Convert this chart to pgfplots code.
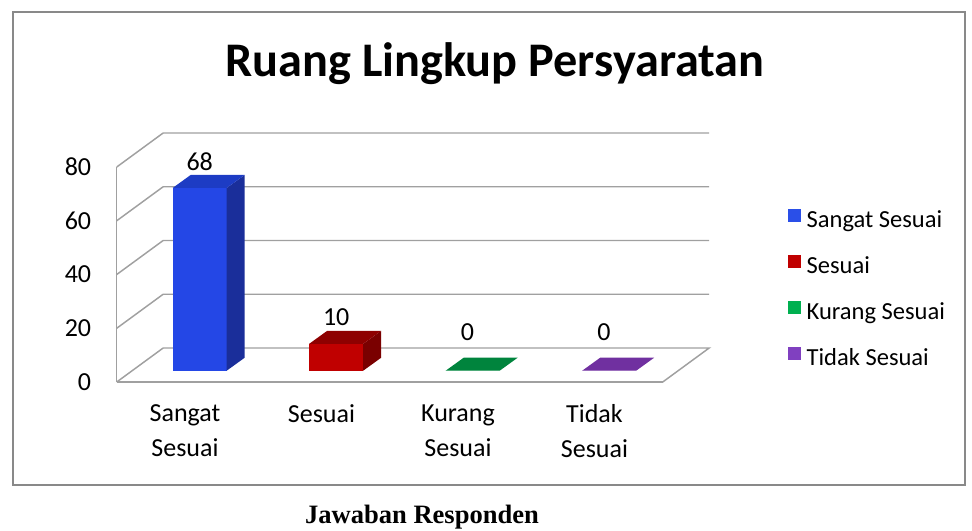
\documentclass[border=0pt]{standalone}
\usepackage{pgfplots}
\pgfplotsset{compat=1.18}
\usepackage{fontspec}
\setmainfont{Carlito}
\newfontfamily\timesfont{Liberation Serif}
\definecolor{framegray}{HTML}{898989}
\definecolor{gridgray}{HTML}{A0A0A0}
\definecolor{blueF}{HTML}{2447E6}
\definecolor{blueS}{HTML}{1A2E9A}
\definecolor{blueT}{HTML}{1D3CC4}
\definecolor{blueL}{HTML}{2A4FE8}
\definecolor{redF}{HTML}{C00000}
\definecolor{redS}{HTML}{7A0000}
\definecolor{redT}{HTML}{8E0000}
\definecolor{greenT}{HTML}{00843D}
\definecolor{greenL}{HTML}{00B050}
\definecolor{purpT}{HTML}{7030A0}
\definecolor{purpL}{HTML}{8040C0}
\begin{document}
\begin{tikzpicture}
\useasboundingbox (0,0) rectangle (729pt,-398.25pt);
\draw[color=framegray, line width=1.5pt] (9.75pt,-9pt) rectangle (723.75pt,-363.75pt);
\node[font=\bfseries\fontsize{36.2}{42}\selectfont, anchor=base, inner sep=0pt] at (371.25pt,-57.5pt) {Ruang Lingkup Persyaratan};
\node[font=\timesfont\bfseries\fontsize{19.9}{24}\selectfont, anchor=base, inner sep=0pt] at (316.5pt,-392.4pt) {Jawaban Responden};

% front plane axis: walls, ticks, category labels
\begin{axis}[
  at={(138.75pt,-286.5pt)}, anchor=origin,
  x=102.375pt, y=2.015625pt,
  xmin=-0.5, xmax=3.5, ymin=0, ymax=80,
  axis x line*=bottom, axis y line*=left,
  axis line style={draw=gridgray, line width=1.1pt, -},
  xtick={0,1,2,3},
  xticklabels={{Sangat\\Sesuai},{Sesuai},{Kurang\\Sesuai},{Tidak\\Sesuai}},
  ytick={0,20,40,60,80},
  major tick length=0pt,
  tick label style={font=\fontsize{19.5}{25.8}\selectfont, text=black},
  yticklabel style={anchor=east, inner sep=0pt, xshift=-19pt},
  xticklabel style={anchor=north, inner sep=0pt, yshift=-17pt, align=center},
  /pgf/number format/assume math mode=true,
  clip=false,
]
\draw[gridgray, line width=1.1pt] (axis cs:-0.5,0) -- (axis cs:-0.16,12.65) -- (axis cs:3.84,12.65) -- (axis cs:3.5,0);
\draw[gridgray, line width=1.1pt] (axis cs:-0.5,20) -- (axis cs:-0.16,32.65) -- (axis cs:3.84,32.65);
\draw[gridgray, line width=1.1pt] (axis cs:-0.5,40) -- (axis cs:-0.16,52.65) -- (axis cs:3.84,52.65);
\draw[gridgray, line width=1.1pt] (axis cs:-0.5,60) -- (axis cs:-0.16,72.65) -- (axis cs:3.84,72.65);
\draw[gridgray, line width=1.1pt] (axis cs:-0.5,80) -- (axis cs:-0.16,92.65) -- (axis cs:3.84,92.65);
\end{axis}

% bar plane axis
\begin{axis}[
  at={(149.775pt,-278.025pt)}, anchor=origin,
  x=102.375pt, y=2.015625pt,
  xmin=-0.5, xmax=3.5, ymin=0, ymax=80,
  hide axis, clip=false,
  /pgf/number format/assume math mode=true,
  legend style={at={(axis cs:4.31,60.43)}, anchor=north west, draw=none, fill=none,
    inner sep=0pt, row sep=16.5pt, column sep=4pt,
    font=\fontsize{18.4}{22}\selectfont,
    nodes={inner sep=0pt, text height=14pt, text depth=4pt}},
  legend cell align=left,
]
% Sangat Sesuai
\addplot[ybar, bar width=40.5pt, bar shift=0pt, fill=blueF, draw=none,
  nodes near coords, every node near coord/.append style={font=\fontsize{19.5}{24}\selectfont, text=black, anchor=base, yshift=13pt},
  legend image code/.code={\fill[blueL] (0pt,-0.8pt) rectangle (9.75pt,9pt);}]
  coordinates {(0,68)};
\addlegendentry{Sangat Sesuai}
\addplot[fill=blueS, draw=none, forget plot, sharp plot] coordinates {(0.1978,0) (0.3297,4.84) (0.3297,72.84) (0.1978,68)} -- cycle;
\addplot[fill=blueT, draw=none, forget plot, sharp plot] coordinates {(-0.1978,68) (-0.0659,72.84) (0.3297,72.84) (0.1978,68)} -- cycle;
% Sesuai
\addplot[ybar, bar width=40.5pt, bar shift=0pt, fill=redF, draw=none,
  nodes near coords, every node near coord/.append style={font=\fontsize{19.5}{24}\selectfont, text=black, anchor=base, yshift=13.5pt},
  legend image code/.code={\fill[redF] (0pt,-0.8pt) rectangle (9.75pt,9pt);}]
  coordinates {(1,10)};
\addlegendentry{Sesuai}
\addplot[fill=redS, draw=none, forget plot, sharp plot] coordinates {(1.1978,0) (1.3297,4.84) (1.3297,14.84) (1.1978,10)} -- cycle;
\addplot[fill=redT, draw=none, forget plot, sharp plot] coordinates {(0.8022,10) (0.9341,14.84) (1.3297,14.84) (1.1978,10)} -- cycle;
% Kurang Sesuai
\addplot[ybar, bar width=40.5pt, bar shift=0pt, fill=greenL, draw=none,
  nodes near coords, every node near coord/.append style={font=\fontsize{19.5}{24}\selectfont, text=black, anchor=base, yshift=22.5pt, xshift=-4pt},
  legend image code/.code={\fill[greenL] (0pt,-0.8pt) rectangle (9.75pt,9pt);}]
  coordinates {(2,0)};
\addlegendentry{Kurang Sesuai}
\addplot[fill=greenT, draw=none, forget plot, sharp plot] coordinates {(1.8022,0) (1.9341,4.84) (2.3297,4.84) (2.1978,0)} -- cycle;
% Tidak Sesuai
\addplot[ybar, bar width=40.5pt, bar shift=0pt, fill=purpL, draw=none,
  nodes near coords, every node near coord/.append style={font=\fontsize{19.5}{24}\selectfont, text=black, anchor=base, yshift=22.5pt, xshift=-4pt},
  legend image code/.code={\fill[purpL] (0pt,-0.8pt) rectangle (9.75pt,9pt);}]
  coordinates {(3,0)};
\addlegendentry{Tidak Sesuai}
\addplot[fill=purpT, draw=none, forget plot, sharp plot] coordinates {(2.8022,0) (2.9341,4.84) (3.3297,4.84) (3.1978,0)} -- cycle;
\end{axis}
\end{tikzpicture}
\end{document}
